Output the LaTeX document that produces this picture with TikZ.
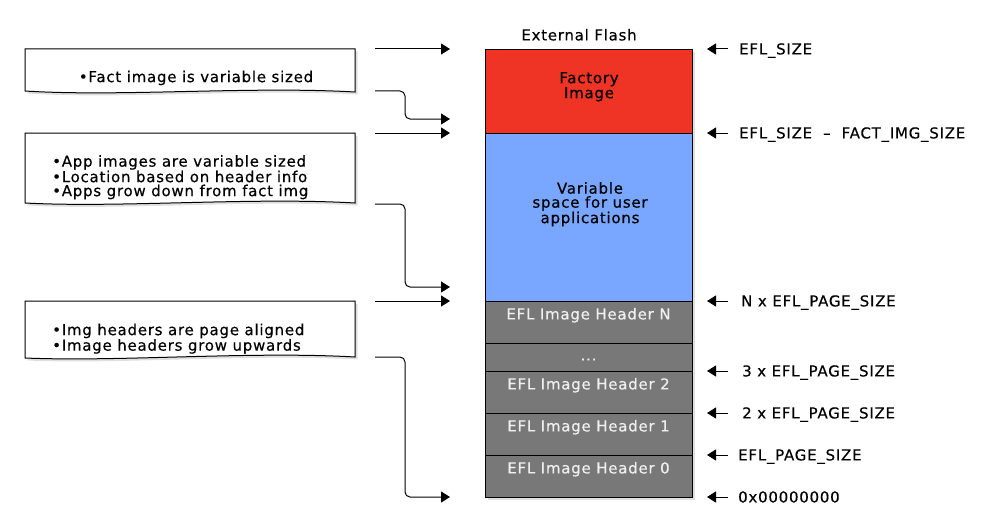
\documentclass[tikz,border=0pt]{standalone}
\usepackage{fontspec}
\setmainfont{DejaVu Sans}[LetterSpace=5, FakeBold=0.4]
\usetikzlibrary{arrows.meta,shadows}
\definecolor{factred}{HTML}{EF3324}
\definecolor{appblue}{HTML}{79A7FF}
\definecolor{hdrgray}{HTML}{787878}
\definecolor{hdrtext}{HTML}{F0F0F0}
\begin{document}
\begin{tikzpicture}[x=1pt,y=-1pt,
  txt/.style={font=\fontsize{15}{14}\selectfont, inner sep=0pt, text height=10.8pt, text depth=0pt},
  mtxt/.style={font=\fontsize{15}{14}\selectfont, inner sep=0pt},
  sect/.style={draw=black, line width=0.9pt, minimum width=207pt, anchor=north west, inner sep=0pt, outer sep=0pt},
  hdr/.style={txt, text=hdrtext},
  arr/.style={line width=1pt, -{Triangle[length=9pt,width=11pt]}},
  notebox/.style={draw=black, line width=1pt, fill=white, drop shadow={shadow xshift=2.5pt, shadow yshift=-2.5pt, opacity=0.25}},
]
\useasboundingbox (0,0) rectangle (1000,532);

% flash column
\node[sect, draw=none, minimum height=448pt, drop shadow={shadow xshift=3pt, shadow yshift=-3pt, opacity=0.25}] (flash) at (485,49) {};
\node[sect, fill=factred, minimum height=84pt] (fact) at (485,49) {};
\node[sect, fill=appblue, minimum height=168pt] (app) at (485,133) {};
\node[sect, fill=hdrgray, minimum height=42pt] (hN) at (485,301) {};
\node[sect, fill=hdrgray, minimum height=28pt] (hdots) at (485,343) {};
\node[sect, fill=hdrgray, minimum height=42pt] (h2) at (485,371) {};
\node[sect, fill=hdrgray, minimum height=42pt] (h1) at (485,413) {};
\node[sect, fill=hdrgray, minimum height=42pt] (h0) at (485,455) {};

\node[txt] (title) at (579,35) {External Flash};
\node[mtxt, align=center, anchor=north] (factt) at (589,72) {Factory\\Image};
\node[mtxt, align=center, anchor=north] (appt) at (590,182) {Variable\\space for user\\applications};
\node[hdr] (hNt) at (588.5,314) {EFL Image Header N};
\node[hdr] (hdotst) at (588.5,355) {...};
\node[hdr] (h2t) at (588.5,384) {EFL Image Header 2};
\node[hdr] (h1t) at (588.5,426) {EFL Image Header 1};
\node[hdr] (h0t) at (588.5,468) {EFL Image Header 0};

% right labels
\node[txt, anchor=west] (l1) at (739,49) {EFL\_SIZE};
\node[txt, anchor=west] (l2) at (739,133) {EFL\_SIZE\ \ –\ \ FACT\_IMG\_SIZE};
\node[txt, anchor=west] (l3) at (741,301) {N x EFL\_PAGE\_SIZE};
\node[txt, anchor=west] (l4) at (742,371) {3 x EFL\_PAGE\_SIZE};
\node[txt, anchor=west] (l5) at (742,413) {2 x EFL\_PAGE\_SIZE};
\node[txt, anchor=west] (l6) at (738,455) {EFL\_PAGE\_SIZE};
\node[txt, anchor=west] (l7) at (738,497) {0x00000000};
\foreach \n/\y in {1/49,2/133,3/301,4/371,5/413,6/455,7/497}{
  \coordinate (r\n s) at (728,\y);
  \coordinate (r\n e) at (707,\y);
  \draw[arr] (r\n s) -- (r\n e);
}

% notes
\draw[notebox] (25,49) -- (355,49) -- (355,92) .. controls (250,86) and (120,97) .. (25,91) -- cycle;
\draw[notebox] (25,133) -- (355,133) -- (355,203) .. controls (250,197) and (120,208) .. (25,203) -- cycle;
\draw[notebox] (25,301) -- (355,301) -- (355,357) .. controls (250,351) and (120,362) .. (25,358) -- cycle;
\node[txt] (n1) at (196,76.7) {•Fact image is variable sized};
\node[mtxt, align=left, anchor=north west] (n2) at (52,155) {•App images are variable sized\\•Location based on header info\\•Apps grow down from fact img};
\node[mtxt, align=left, anchor=north west] (n3) at (52,323.5) {•Img headers are page aligned\\•Image headers grow upwards};

% left arrows
\coordinate (a1s) at (375,49);  \coordinate (a1e) at (450,49);
\coordinate (a2s) at (375,133); \coordinate (a2e) at (450,133);
\coordinate (a3s) at (375,301); \coordinate (a3e) at (450,301);
\coordinate (b1s) at (375,91);  \coordinate (b1e) at (450,119);
\coordinate (b2s) at (375,204); \coordinate (b2e) at (450,287);
\coordinate (b3s) at (375,357); \coordinate (b3e) at (450,497);
\draw[arr] (a1s) -- (a1e);
\draw[arr] (a2s) -- (a2e);
\draw[arr] (a3s) -- (a3e);
\draw[arr, rounded corners=5pt] (b1s) -- ++(30,0) |- (b1e);
\draw[arr, rounded corners=5pt] (b2s) -- ++(30,0) |- (b2e);
\draw[arr, rounded corners=5pt] (b3s) -- ++(30,0) |- (b3e);
\end{tikzpicture}
\end{document}
